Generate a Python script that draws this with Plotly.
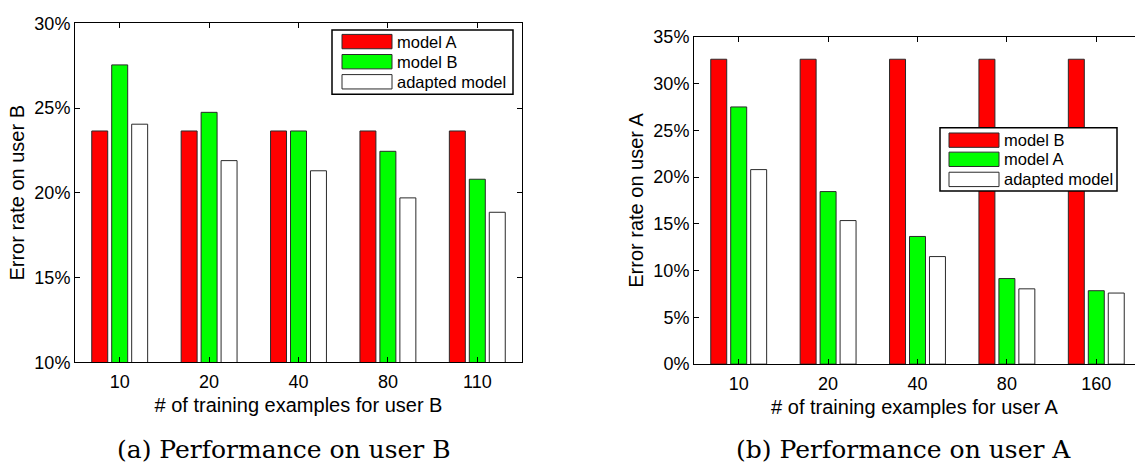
import plotly.graph_objects as go
from plotly.subplots import make_subplots

# ---- data -------------------------------------------------------------
cats_b = ["10", "20", "40", "80", "110"]
user_b_model_a = [23.65, 23.65, 23.65, 23.65, 23.65]
user_b_model_b = [27.55, 24.75, 23.65, 22.45, 20.8]
user_b_adapted = [24.05, 21.9, 21.3, 19.7, 18.85]

cats_a = ["10", "20", "40", "80", "160"]
user_a_model_b = [32.6, 32.6, 32.6, 32.6, 32.6]
user_a_model_a = [27.5, 18.45, 13.65, 9.15, 7.85]
user_a_adapted = [20.8, 15.35, 11.5, 8.05, 7.6]

ticks_b = [10, 15, 20, 25, 30]
ticks_a = [0, 5, 10, 15, 20, 25, 30, 35]

RED, GREEN, WHITE = "#ff0000", "#00ff00", "#ffffff"
EDGE = "#2a2a2a"
W, H = 1135, 466
SANS = "Liberation Sans, Arial, Helvetica, sans-serif"
SERIF = "DejaVu Serif, serif"

fig = make_subplots(rows=1, cols=2)


def add_bars(col, cats, series):
    for name, vals, color in series:
        fig.add_trace(
            go.Bar(x=cats, y=vals, name=name, marker_color=color,
                   marker_line_color=EDGE, marker_line_width=1,
                   showlegend=False),
            row=1, col=col)


add_bars(1, cats_b, [("model A", user_b_model_a, RED),
                     ("model B", user_b_model_b, GREEN),
                     ("adapted model", user_b_adapted, WHITE)])
add_bars(2, cats_a, [("model B", user_a_model_b, RED),
                     ("model A", user_a_model_a, GREEN),
                     ("adapted model", user_a_adapted, WHITE)])


def px(x):
    return x / W


def py(y):
    return 1 - y / H


def pct(vals):
    return [f"{v}%" for v in vals]


axis_common = dict(showline=True, linecolor="black", linewidth=1,
                   ticks="inside", ticklen=5, tickcolor="black",
                   tickfont=dict(family=SANS, size=18, color="black"),
                   showgrid=False, zeroline=False)
title_font = dict(family=SANS, size=20, color="black")

fig.update_xaxes(axis_common, mirror="ticks", ticklabelstandoff=3)
fig.update_yaxes(axis_common)

fig.update_layout(
    xaxis=dict(domain=[px(75), px(522)], range=[-0.5, 4.5],
               title=dict(text="# of training examples for user B",
                          font=title_font, standoff=7)),
    yaxis=dict(domain=[py(368), py(14)], range=[10, 30],
               tickmode="array", tickvals=ticks_b, ticktext=pct(ticks_b),
               mirror="ticks",
               title=dict(text="Error rate on user B",
                          font=title_font, standoff=4)),
    xaxis2=dict(domain=[px(694), 1.0], range=[-0.5, 4.433],
                title=dict(text="# of training examples for user A",
                           font=title_font, standoff=7)),
    yaxis2=dict(domain=[py(370), py(28)], range=[0, 35],
                tickmode="array", tickvals=ticks_a, ticktext=pct(ticks_a),
                mirror=False,
                title=dict(text="Error rate on user A",
                           font=title_font, standoff=4)),
)


def legend_box(box, rows, swatch_x, text_x, entries):
    x0, y0, x1, y1 = box
    fig.add_shape(type="rect", xref="paper", yref="paper",
                  x0=px(x0), x1=px(x1), y0=py(y1), y1=py(y0),
                  line=dict(color="black", width=1.5), fillcolor="white",
                  layer="above")
    for yc, (name, color) in zip(rows, entries):
        fig.add_shape(type="rect", xref="paper", yref="paper",
                      x0=px(swatch_x[0]), x1=px(swatch_x[1]),
                      y0=py(yc + 7.5), y1=py(yc - 7.5),
                      line=dict(color=EDGE, width=1), fillcolor=color,
                      layer="above")
        fig.add_annotation(x=px(text_x), y=py(yc), xref="paper", yref="paper",
                           text=name, showarrow=False, xanchor="left",
                           yanchor="middle",
                           font=dict(family=SANS, size=16.5, color="black"))


legend_box((332, 21, 513, 88), [33, 54, 75], (342, 392), 395,
           [("model A", RED), ("model B", GREEN), ("adapted model", WHITE)])
legend_box((940, 123, 1117, 189), [136, 156, 177], (949, 999), 1002,
           [("model B", RED), ("model A", GREEN), ("adapted model", WHITE)])

for text, xc in [("(a) Performance on user B", 284),
                 ("(b) Performance on user A", 903)]:
    fig.add_annotation(x=px(xc), y=py(459), xref="paper", yref="paper",
                       text=text, showarrow=False, xanchor="center",
                       yanchor="middle",
                       font=dict(family=SERIF, size=25, color="black"))

fig.update_layout(
    width=W, height=H, margin=dict(l=0, r=0, t=0, b=0),
    paper_bgcolor="white", plot_bgcolor="white",
    barmode="group", bargap=0.33, bargroupgap=0.2,
)

fig.write_html("out.html")
